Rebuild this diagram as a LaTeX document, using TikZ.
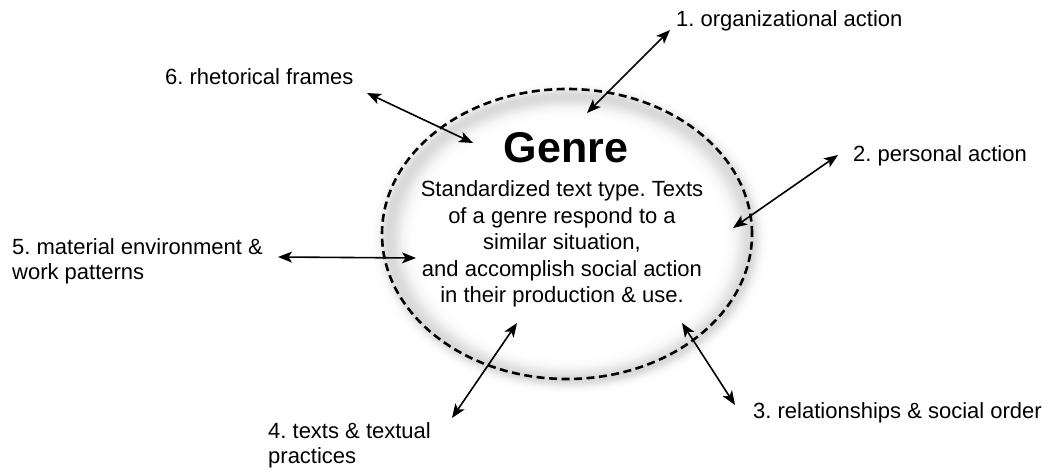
\documentclass[tikz,border=0pt]{standalone}
\usepackage{fontspec}
\setmainfont{Liberation Sans}
\frenchspacing
\usetikzlibrary{arrows.meta}
\tikzset{
  lbl/.style={anchor=base west, inner sep=0pt, font=\fontsize{22}{25}\selectfont, align=left},
  biarrow/.style={line width=1.6pt, {Stealth[length=14pt,width=11pt,inset=3.5pt]}-{Stealth[length=14pt,width=11pt,inset=3.5pt]}},
  genrering/.style={line width=2.6pt, dash pattern=on 8pt off 4.5pt}
}
\begin{document}
\begin{tikzpicture}[x=1pt,y=1pt]
\useasboundingbox (0,0) rectangle (1054,474);
% soft glow around the ellipse
\foreach \i in {0,...,55}{
  \pgfmathsetmacro\s{1.10-\i*0.006}
  \pgfmathsetmacro\d{\s>0.985 ? (\s-0.985)/0.045 : (\s-0.985)/0.075}
  \pgfmathsetmacro\c{15*exp(-(\d*\d))}
  \fill[black!\c] (570,474-238) ellipse [x radius=185*\s, y radius=145*\s];
}
\draw[genrering] (567,474-234) ellipse [x radius=185, y radius=145];
% central texts
\node[anchor=base, inner sep=0pt, font=\fontsize{43}{50}\selectfont\bfseries] (genre) at (566,474-163) {Genre};
\node[anchor=base, inner sep=0pt, align=center, font=\fontsize{22}{26.5}\selectfont] (def) at (562,474-303)
  {Standardized text type. Texts\\ of a genre respond to a\\ similar situation,\\ and accomplish social action\\ in their production \& use.};
% labels
\node[lbl] (l1) at (676,474-27) {1. organizational action};
\node[lbl] (l2) at (853,474-162) {2. personal action};
\node[lbl] (l3) at (753,474-418) {3. relationships \& social order};
\node[lbl] (l4) at (268,474-463) {4. texts \& textual\\practices};
\node[lbl] (l5) at (12,474-280) {5. material environment \&\\work patterns};
\node[lbl] (l6) at (165,474-85) {6. rhetorical frames};
% arrow end points
\coordinate (a1o) at (670,474-30);  \coordinate (a1i) at (587,474-113);
\coordinate (a2o) at (838,474-155); \coordinate (a2i) at (733,474-228);
\coordinate (a3o) at (735,474-405); \coordinate (a3i) at (682,474-323);
\coordinate (a4o) at (452,474-418); \coordinate (a4i) at (517,474-323);
\coordinate (a5o) at (278,474-257); \coordinate (a5i) at (416,474-258);
\coordinate (a6o) at (367,474-93);  \coordinate (a6i) at (473,474-143);
\draw[biarrow] (a1o) -- (a1i);
\draw[biarrow] (a2o) -- (a2i);
\draw[biarrow] (a3o) -- (a3i);
\draw[biarrow] (a4o) -- (a4i);
\draw[biarrow] (a5o) -- (a5i);
\draw[biarrow] (a6o) -- (a6i);
\end{tikzpicture}
\end{document}
